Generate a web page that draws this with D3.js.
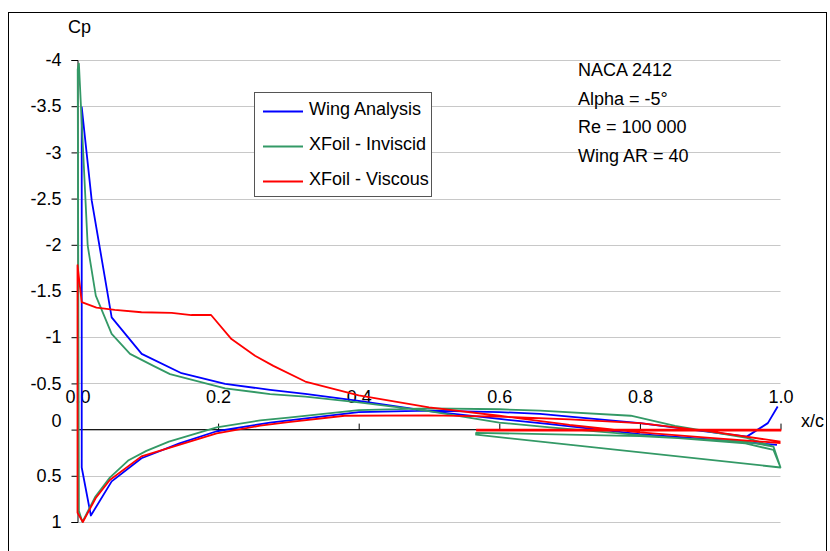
<!DOCTYPE html>
<html>
<head>
<meta charset="utf-8">
<script src="https://cdn.jsdelivr.net/npm/d3@7"></script>
<style>
  body { margin: 0; background: #fff; }
  text { font-family: "Liberation Sans", Arial, sans-serif; font-size: 18px; fill: #000; }
</style>
</head>
<body>
<div id="chart"></div>
<script>
// x/c and Cp values, pressure side TE -> LE, then suction side LE -> TE
var wingX = [0.996, 0.982, 0.952, 0.8, 0.658, 0.6, 0.5, 0.4, 0.274, 0.198, 0.145, 0.091, 0.0486, 0.019, 0.006,
  0.006, 0.0202, 0.0486, 0.0913, 0.148, 0.21, 0.274, 0.324, 0.4, 0.5, 0.6, 0.672, 0.8, 0.952, 0.995];
var wingCp = [-0.25, -0.07, 0.076, -0.07, -0.17, -0.19, -0.205, -0.19, -0.076, 0.018, 0.15, 0.31, 0.56, 0.93, 0.41,
  -3.49, -2.48, -1.215, -0.82, -0.61, -0.495, -0.43, -0.386, -0.31, -0.2, -0.115, -0.06, 0.05, 0.137, 0.166];

var invX = [1.0, 0.99, 0.952, 0.85, 0.787, 0.658, 0.6, 0.5, 0.4, 0.3, 0.26, 0.198, 0.13, 0.098, 0.072, 0.046, 0.025, 0.007, 0.002,
  0.0003, 0.002, 0.0145, 0.026, 0.0486, 0.0747, 0.108, 0.1316, 0.21, 0.274, 0.324, 0.4, 0.5, 0.6, 0.672, 0.8, 0.95, 0.99, 1.0,
  0.567, 0.567, 0.8, 0.95, 0.99];
var invCp = [0.41, 0.184, 0.09, -0.04, -0.15, -0.205, -0.22, -0.23, -0.21, -0.13, -0.1, -0.025, 0.13, 0.23, 0.335, 0.52, 0.73, 1.0, 0.88,
  -3.9, -3.96, -1.99, -1.45, -1.035, -0.82, -0.69, -0.6, -0.447, -0.385, -0.357, -0.295, -0.2, -0.075, -0.025, 0.06, 0.15, 0.22, 0.41,
  0.055, 0.035, 0.07, 0.13, 0.184];

var viscX = [1.0, 0.9, 0.8, 0.7, 0.6, 0.5, 0.38, 0.3, 0.26, 0.198, 0.091, 0.046, 0.026, 0.0076, 0.0,
  0.0, 0.006, 0.027, 0.053, 0.091, 0.134, 0.162, 0.19, 0.219, 0.2525, 0.2786, 0.324, 0.4, 0.5, 0.6, 0.7, 0.8, 0.9, 1.0,
  null, 0.567, 1.0, 1.0, 0.567];
var viscCp = [0.13, 0.02, -0.07, -0.11, -0.14, -0.155, -0.15, -0.08, -0.043, 0.04, 0.29, 0.545, 0.74, 1.0, 0.9,
  -1.78, -1.38, -1.32, -1.295, -1.27, -1.263, -1.24, -1.24, -0.98, -0.8, -0.69, -0.52, -0.37, -0.24, -0.15, -0.05, 0.03, 0.09, 0.145,
  null, 0.0, 0.0, 0.012, 0.012];

var seriesNames = ["Wing Analysis", "XFoil - Inviscid", "XFoil - Viscous"];
var seriesColors = ["#0000ff", "#339966", "#ff0000"];
var xTicks = [0, 0.2, 0.4, 0.6, 0.8, 1.0];
var yTicks = [-4, -3.5, -3, -2.5, -2, -1.5, -1, -0.5, 0, 0.5, 1];
var notes = ["NACA 2412", "Alpha = -5°", "Re = 100 000", "Wing AR = 40"];

var svgWidth = 830;
var svgHeight = 551;

var svg = d3.select("#chart")
  .append("svg")
  .attr("width", svgWidth)
  .attr("height", svgHeight);

// outer chart border
svg.append("rect")
  .attr("x", 8.5)
  .attr("y", 12.5)
  .attr("width", 818)
  .attr("height", 560)
  .attr("fill", "none")
  .attr("stroke", "#000");

var xScale = d3.scaleLinear().domain([0, 1]).range([77.5, 780.5]);
var yScale = d3.scaleLinear().domain([-4, 1]).range([60, 522]);

// gridlines
svg.append("g")
  .selectAll("line")
  .data(yTicks)
  .enter()
  .append("line")
  .attr("x1", xScale(0))
  .attr("x2", xScale(1))
  .attr("y1", d => Math.round(yScale(d)) + 0.5)
  .attr("y2", d => Math.round(yScale(d)) + 0.5)
  .attr("stroke", "#c8c8c8")
  .attr("stroke-width", 1.2);

// y axis
var leftAxis = d3.axisLeft(yScale)
  .tickValues(yTicks)
  .tickSize(6)
  .tickPadding(10)
  .tickFormat(d => String(d));   // plain hyphen, not the unicode minus

var yAxis = svg.append("g")
  .attr("transform", "translate(" + xScale(0) + ",0)")
  .call(leftAxis);
yAxis.select(".domain").attr("stroke", "#000");
yAxis.selectAll("text")
  .style("font-size", "18px")
  .style("font-family", "Liberation Sans, Arial, sans-serif")
  .attr("dy", d => d === 0 ? "-0.15em" : "0.32em");

// x axis sits on Cp = 0, labels drawn above it
var bottomAxis = d3.axisTop(xScale)
  .tickValues(xTicks)
  .tickSize(6)
  .tickPadding(21)
  .tickFormat(d => d.toFixed(1));

var xAxis = svg.append("g")
  .attr("transform", "translate(0," + yScale(0) + ")")
  .call(bottomAxis);
xAxis.select(".domain").attr("stroke", "#000").attr("d", "M" + xScale(0) + ",0H" + xScale(1));
xAxis.selectAll("text")
  .style("font-size", "18px")
  .style("font-family", "Liberation Sans, Arial, sans-serif");

svg.append("text")
  .attr("x", 68)
  .attr("y", 33)
  .text("Cp");

svg.append("text")
  .attr("x", 801)
  .attr("y", 427)
  .text("x/c");

// series
var allSeries = [
  d3.zip(wingX, wingCp),
  d3.zip(invX, invCp),
  d3.zip(viscX, viscCp)
];

var line = d3.line()
  .defined(d => d[0] != null && d[1] != null)
  .x(d => xScale(d[0]))
  .y(d => yScale(d[1]));

svg.append("g")
  .selectAll("path")
  .data(allSeries)
  .enter()
  .append("path")
  .attr("d", line)
  .attr("fill", "none")
  .attr("stroke", (d, i) => seriesColors[i])
  .attr("stroke-width", 1.8)
  .attr("stroke-linejoin", "round");

// legend
var legend = svg.append("g");
legend.append("rect")
  .attr("x", 254.5)
  .attr("y", 92.5)
  .attr("width", 177)
  .attr("height", 104)
  .attr("fill", "#fff")
  .attr("stroke", "#555");

var rows = legend.selectAll(".row")
  .data(seriesNames)
  .enter()
  .append("g")
  .attr("transform", (d, i) => "translate(0," + (111.5 + i * 35) + ")");

rows.append("line")
  .attr("x1", 263)
  .attr("x2", 303)
  .attr("stroke", (d, i) => seriesColors[i])
  .attr("stroke-width", 1.8);

rows.append("text")
  .attr("x", 309)
  .attr("y", 3)
  .text(d => d);

// case notes
svg.append("g")
  .selectAll("text")
  .data(notes)
  .enter()
  .append("text")
  .attr("x", 578)
  .attr("y", (d, i) => 76 + i * 28.5)
  .text(d => d);
</script>
</body>
</html>
